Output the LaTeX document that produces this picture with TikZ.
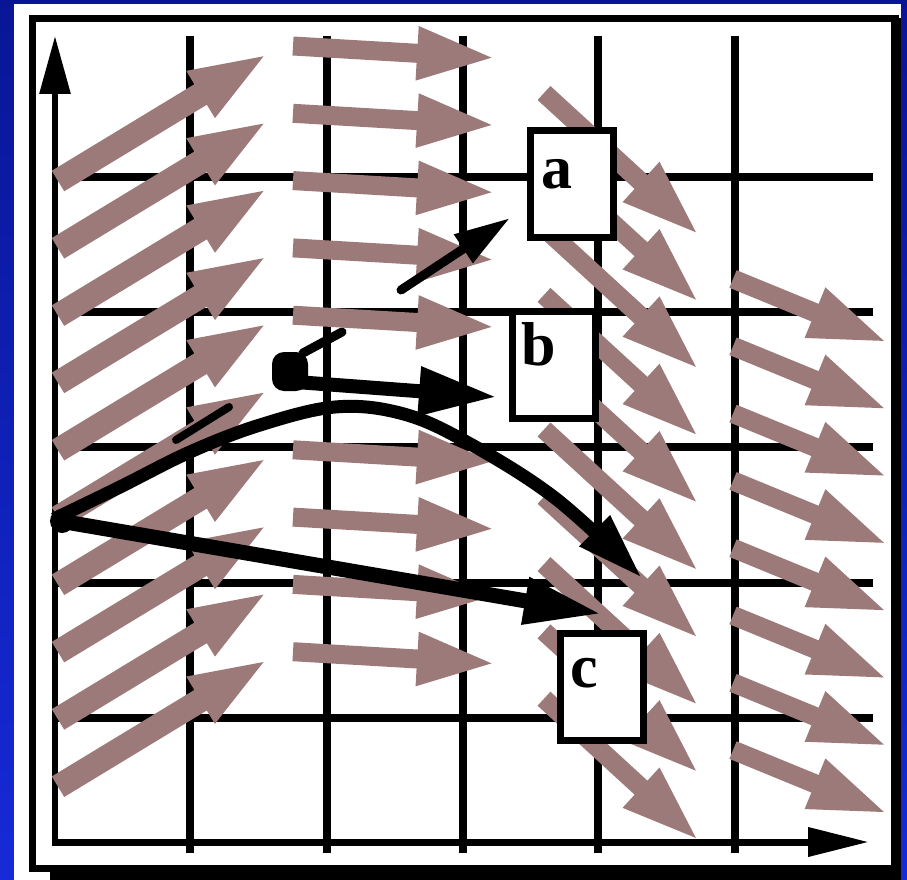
\documentclass[tikz,border=0pt]{standalone}
\usepackage{fontspec}
\setmainfont{Liberation Serif}
\usetikzlibrary{arrows.meta}
\definecolor{brn}{RGB}{157,122,122}
\definecolor{bgtop}{RGB}{8,22,150}
\definecolor{bgbot}{RGB}{22,42,215}
\begin{document}
\begin{tikzpicture}[x=1pt,y=-1pt,
  gridline/.style={line width=8pt},
  fa/.style={draw=brn, line width=19pt, -{Triangle[length=80pt,width=48pt]}},
  fat/.style={fa, line width=24pt},
  box/.style={draw, line width=7pt, fill=white, minimum width=83pt, minimum height=107pt, inner sep=0pt},
  lab/.style={font=\bfseries\fontsize{62}{62}\selectfont, inner sep=0pt, anchor=base west},
  traj/.style={line width=#1},
]
\useasboundingbox (0,0) rectangle (907,880);
% background and panel
\shade[top color=bgtop, bottom color=bgbot] (0,0) rectangle (907,880);
\fill[white] (14,4) rectangle (901,880);
% frame with shadow
\draw[line width=7pt] (32,18.5) rectangle (895,868);
\fill (50,866) rectangle (901,880);
\fill (891,18) rectangle (901,880);
% grid
\foreach \gx in {190,327,462.5,597.5,734.5}{
  \draw[gridline] (\gx,36) -- (\gx,853);
}
\foreach \gy in {177,312,447,582.5,717.5}{
  \draw[gridline] (55,\gy) -- (873,\gy);
}
% axes
\coordinate (O) at (55,846);
\coordinate (ytop) at (55,36);
\coordinate (xo) at (52,842);
\coordinate (xend) at (869,842);
\draw[line width=6pt, -{Triangle[length=58pt,width=30pt]}] (O) -- (ytop);
\draw[line width=7pt, -{Triangle[length=61pt,width=28pt]}] (xo) -- (xend);
% brown vector field
\foreach \k in {0,...,9}{
  \draw[fat] (58,{181+67.3*\k}) -- (269,{53+67.3*\k});
}
\foreach \k in {0,1,2,3,4,6,7,8,9}{
  \draw[fa] (293,{46+67.3*\k}) -- (497,{58+67.3*\k});
}
\foreach \k in {0,...,9}{
  \draw[fa] (544,{93+67.3*\k}) -- (700,{236+67.3*\k});
}
\foreach \k in {0,...,7}{
  \draw[fa] (733,{279+67.3*\k}) -- (889,{343+67.3*\k});
}
% black trajectories
\coordinate (s) at (54,520);
\fill (62,521) circle (12pt);
\draw[traj=15pt, -{Triangle[length=78pt,width=44pt]}] (s) -- (602,614);
\draw[traj=13pt, -{Triangle[length=67pt,width=40pt]}]
  plot[smooth, tension=0.6] coordinates {(54,519) (120,487) (190,452) (260,425) (335,407) (400,413) (463,440) (555,498) (642,578)};
\draw[traj=8pt, line cap=round] (176,440) -- (229,407);
% arrow a
\draw[traj=9pt, line cap=round, -{Triangle[length=56pt,width=32pt]}] (401,290) -- (510,218);
% arrow b
\fill[rounded corners=12pt] (272,352) rectangle (308,391);
\draw[traj=9pt, line cap=round] (303,353) -- (342,332);
\draw[traj=14pt, -{Triangle[length=78pt,width=46pt]}] (296,382) -- (497,397);
% boxes
\node[box] (boxa) at (572,184) {};
\node[box] (boxb) at (553.5,365) {};
\node[box] (boxc) at (602,687) {};
\node[lab] (la) at (541,188) {a};
\node[lab] (lb) at (521,365) {b};
\node[lab] (lc) at (570,687) {c};
\end{tikzpicture}
\end{document}
